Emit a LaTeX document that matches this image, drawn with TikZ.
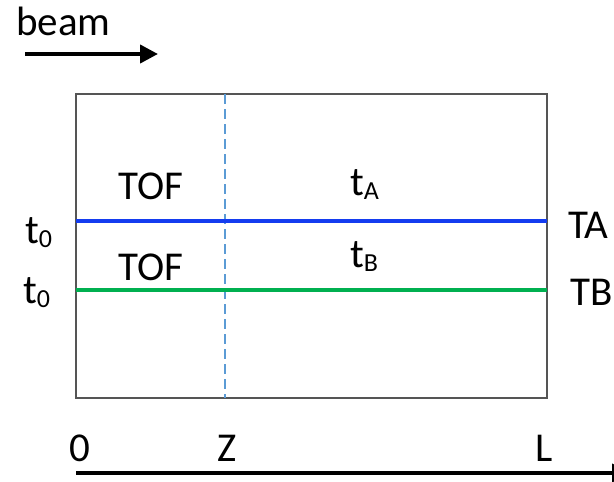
\documentclass[tikz,border=0pt]{standalone}
\usepackage{fontspec}
\setmainfont{Carlito}
\usetikzlibrary{arrows.meta}
\definecolor{lineA}{RGB}{20,60,240}
\definecolor{lineB}{RGB}{0,176,80}
\definecolor{dashc}{RGB}{91,155,213}
\definecolor{boxc}{RGB}{85,85,85}
\newcommand{\sub}[1]{\raisebox{-4pt}{\fontsize{26}{30}\selectfont #1}}
\begin{document}
\begin{tikzpicture}[x=1pt,y=-1pt,
  lbl/.style={anchor=base west,inner sep=0pt,font=\fontsize{41}{48}\selectfont},
  boxline/.style={draw=boxc,line width=1.5pt},
  thick arrow/.style={line width=4pt,-{Triangle[length=18pt,width=18pt]}}]
\useasboundingbox (0,0) rectangle (614,482);
% box
\coordinate (bl) at (76,398);
\coordinate (tr) at (547,94);
\draw[boxline] (bl) rectangle (tr);
% dashed Z line
\coordinate (zt) at (225,94);
\coordinate (zb) at (225,398);
\draw[dashc,line width=2.5pt,dash pattern=on 10pt off 5pt] (zt) -- (zb);
% A and B lines
\coordinate (a0) at (76,221);
\coordinate (a1) at (547,221);
\coordinate (b0) at (76,290);
\coordinate (b1) at (547,290);
\draw[lineA,line width=4.5pt] (a0) -- (a1);
\draw[lineB,line width=4pt] (b0) -- (b1);
% beam arrow
\node[lbl] (beam) at (16,35) {beam};
\coordinate (bs) at (25,54);
\coordinate (be) at (158,54);
\draw[thick arrow] (bs) -- (be);
% axis
\coordinate (xs) at (76,473);
\coordinate (xe) at (630,473);
\draw[thick arrow] (xs) -- (xe);
% labels
\node[lbl] (tof1) at (118,199) {TOF};
\node[lbl] (tof2) at (118,280) {TOF};
\node[lbl] (t01) at (25,243) {t\sub{0}};
\node[lbl] (t02) at (23,303) {t\sub{0}};
\node[lbl] (tA) at (350,195) {t\sub{A}};
\node[lbl] (tB) at (350,267) {t\sub{B}};
\node[lbl] (TA) at (568,238) {TA};
\node[lbl] (TB) at (570,305) {TB};
\node[lbl] (o) at (69,461) {0};
\node[lbl] (z) at (217,461) {Z};
\node[lbl] (l) at (535,461) {L};
\end{tikzpicture}
\end{document}
